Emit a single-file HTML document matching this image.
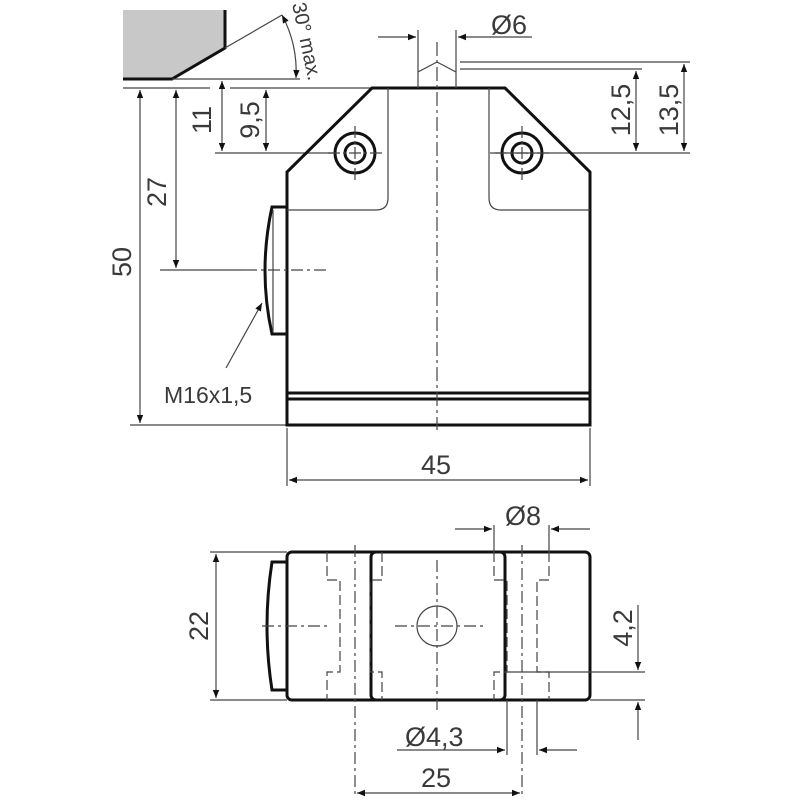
<!DOCTYPE html>
<html><head><style>body{margin:0;background:#fff}svg{display:block}text{font-family:"Liberation Sans",sans-serif;fill:#3a3a3a}</style></head>
<body>
<svg width="800" height="800" viewBox="0 0 800 800" xmlns="http://www.w3.org/2000/svg">
<defs>
<marker id="a" viewBox="0 0 10 10" refX="10" refY="5" markerWidth="16" markerHeight="8" markerUnits="userSpaceOnUse" orient="auto-start-reverse"><path d="M0,1 L10,5 L0,9z" fill="#111"/></marker>
</defs>
<g stroke="#444" stroke-width="1.2" fill="none">
<path d="M123,10 H225 V48 L172,79 H123z" fill="#c8c8c8" stroke="none"/>
<path d="M225,10 V48 L172,79 H123" stroke="#111" stroke-width="3"/>
<path d="M172,79 H300 M225,48 L282,15"/>
<path d="M282,15 A120,120 0 0 1 296,78" marker-start="url(#a)" marker-end="url(#a)"/>
<path d="M123,88 H210 M230,88 H372 M215,153 H335 M130,425 H287 M160,270 H245"/>
<path d="M140,90 V423" marker-start="url(#a)" marker-end="url(#a)"/>
<path d="M176,90 V268" marker-start="url(#a)" marker-end="url(#a)"/>
<path d="M222,81 V151" marker-start="url(#a)" marker-end="url(#a)"/>
<path d="M266,90 V151" marker-start="url(#a)" marker-end="url(#a)"/>
<path d="M418,30 V72 M456,30 V72"/>
<path d="M378,37 H416" marker-end="url(#a)"/>
<path d="M532,37 H458" marker-end="url(#a)"/>
<path d="M460,62 H690 M460,69 H642 M490,153 H690"/>
<path d="M636,71 V151" marker-start="url(#a)" marker-end="url(#a)"/>
<path d="M684,64 V151" marker-start="url(#a)" marker-end="url(#a)"/>
<path d="M287,428 V486 M590,428 V486"/>
<path d="M289,480 H588" marker-start="url(#a)" marker-end="url(#a)"/>
<path d="M226,368 L262,303" marker-end="url(#a)"/>
<path d="M372,88 H505 L590,172 V425 H287 V172z" stroke="#111" stroke-width="3"/>
<path d="M287,393 H590 M287,399 H590" stroke="#111" stroke-width="3"/>
<path d="M388,88 V198 Q388,210 376,210 H287 M489,88 V198 Q489,210 501,210 H590"/>
<path d="M418,88 V72 L437,62 L456,72 V88"/>
<circle cx="355" cy="153" r="20" stroke="#111" stroke-width="3"/>
<circle cx="355" cy="153" r="10" stroke="#111" stroke-width="3"/>
<circle cx="522" cy="153" r="20" stroke="#111" stroke-width="3"/>
<circle cx="522" cy="153" r="10" stroke="#111" stroke-width="3"/>
<path d="M328,153 H382 M355,126 V180 M495,153 H549 M522,126 V180" stroke-dasharray="12,3,3,3"/>
<path d="M287,207 H272 Q258,271 272,334 H287" stroke="#111" stroke-width="3"/>
<path d="M273,210 V332"/>
<path d="M245,270 H330" stroke-dasharray="12,4,3,4"/>
<path d="M437,42 V430" stroke-dasharray="14,4,3,4"/>
<rect x="287" y="552" width="303" height="148" rx="5" stroke="#111" stroke-width="3"/>
<rect x="371" y="552" width="134" height="148" rx="5" stroke="#111" stroke-width="3"/>
<path d="M287,562 H272 Q262,626 272,690 H287" stroke="#111" stroke-width="3"/>
<circle cx="437" cy="626" r="20"/>
<path d="M395,626 H485 M437,560 V710 M262,626 H330" stroke-dasharray="12,4,3,4"/>
<g stroke-dasharray="10,4">
<path d="M327,552 V580 H340 V672 H327 V700 M382,552 V580 H370 V672 H382 V700"/>
<path d="M494,552 V580 H507 V672 H494 V700 M549,552 V580 H537 V672 H549 V700"/>
</g>
<path d="M355,545 V795 M522,545 V795" stroke-dasharray="12,4,3,4"/>
<path d="M210,552 H287 M210,700 H287"/>
<path d="M216,554 V698" marker-start="url(#a)" marker-end="url(#a)"/>
<path d="M494,525 V552 M549,525 V552"/>
<path d="M455,529 H492" marker-end="url(#a)"/>
<path d="M590,529 H551" marker-end="url(#a)"/>
<path d="M505,672 H645 M590,700 H645"/>
<path d="M638,605 V670" marker-end="url(#a)"/>
<path d="M638,740 V702" marker-end="url(#a)"/>
<path d="M507,700 V755 M537,700 V755"/>
<path d="M397,750 H505" marker-end="url(#a)"/>
<path d="M577,750 H539" marker-end="url(#a)"/>
<path d="M357,793 H520" marker-start="url(#a)" marker-end="url(#a)"/>
</g>
<g font-size="27">
<text x="491" y="34">Ø6</text>
<text x="421" y="474">45</text>
<text x="505" y="525">Ø8</text>
<text x="405" y="746">Ø4,3</text>
<text x="421" y="787">25</text>
<text x="164" y="403" font-size="23">M16x1,5</text>
<text transform="translate(131,262) rotate(-90)" text-anchor="middle">50</text>
<text transform="translate(166,192) rotate(-90)" text-anchor="middle">27</text>
<text transform="translate(211,120) rotate(-90)" text-anchor="middle">11</text>
<text transform="translate(259,120) rotate(-90)" text-anchor="middle">9,5</text>
<text transform="translate(630,110) rotate(-90)" text-anchor="middle">12,5</text>
<text transform="translate(678,110) rotate(-90)" text-anchor="middle">13,5</text>
<text transform="translate(632,628) rotate(-90)" text-anchor="middle">4,2</text>
<text transform="translate(208,626) rotate(-90)" text-anchor="middle">22</text>
<text transform="translate(292,4) rotate(78)" font-size="20">30° max.</text>
</g>
</svg>
</body></html>
